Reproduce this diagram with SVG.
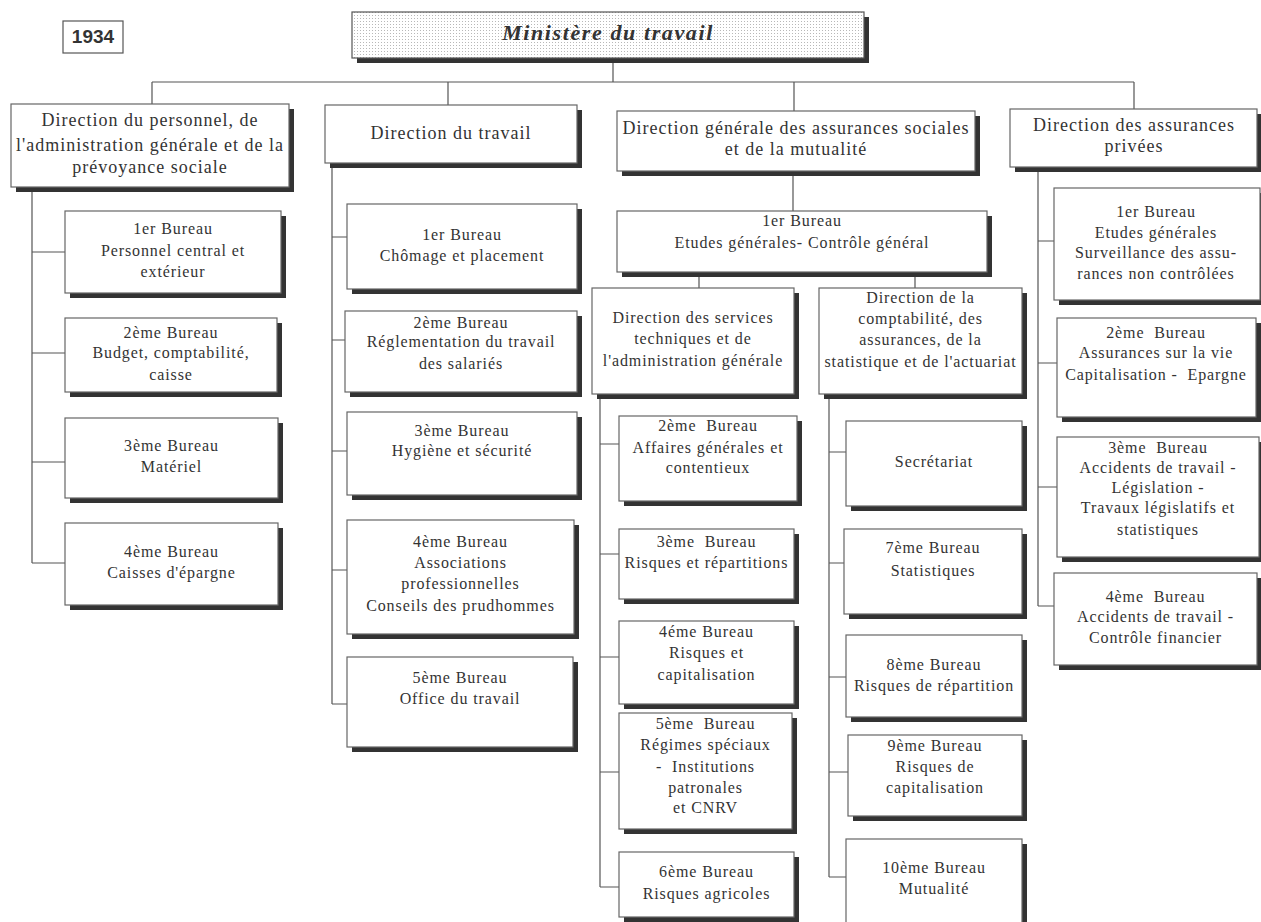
<svg xmlns="http://www.w3.org/2000/svg" width="1261" height="922" viewBox="0 0 1261 922">
<defs>
<pattern id="dots" width="3" height="3" patternUnits="userSpaceOnUse"><rect width="3" height="3" fill="#fff"/><rect width="1" height="1" fill="#b8b8b8"/></pattern>
<style>
.box{fill:#fff;stroke:#666;stroke-width:1.2}
.sh{fill:#333}
.t{font-family:"Liberation Serif","Times New Roman",serif;font-size:16px;letter-spacing:0.9px;fill:#333;text-anchor:middle}
.h{font-size:18px;letter-spacing:1px}
.ln{stroke:#555;stroke-width:1.2;fill:none}
</style>
</defs>
<rect width="1261" height="922" fill="#fff"/>
<g id="connectors" class="ln">
<path d="M613,58V82M152,82H1134M152,82V104M448,82V105M794,82V111M1134,82V109"/>
<path d="M32,187V563M32,252H65M32,353H65M32,462H65M32,563H65"/>
<path d="M332,163V704M332,237H347M332,340H345M332,451H347M332,570H347M332,704H347"/>
<path d="M793,171V211M699,272V288M915,272V288"/>
<path d="M600,394V887M600,444H619M600,554H619M600,657H619M600,772H619M600,887H619"/>
<path d="M829,394V877M829,452H846M829,563H844M829,677H846M829,772H848M829,877H846"/>
<path d="M1038,167V606M1038,241H1054M1038,363H1057M1038,487H1057M1038,606H1054"/>
</g>
<g id="year"><rect x="63" y="21" width="60" height="32" fill="#fff" stroke="#555" stroke-width="1.2"/><text x="93" y="43" style="font-family:'Liberation Sans',Arial,sans-serif;font-weight:bold;font-size:19px;fill:#333;text-anchor:middle">1934</text></g>
<g id="ministere"><rect class="sh" x="357" y="17" width="512" height="46"/><rect x="352" y="12" width="512" height="46" fill="url(#dots)" stroke="#555" stroke-width="1.2"/><text x="608" y="40" style="font-family:'Liberation Serif',serif;font-weight:bold;font-style:italic;font-size:22px;letter-spacing:1.6px;fill:#333;text-anchor:middle">Ministère du travail</text></g>

<g id="dir-personnel"><rect class="sh" x="16" y="109" width="278" height="83"/><rect class="box" x="11" y="104" width="278" height="83"/><text class="t h"><tspan x="150" y="126">Direction du personnel, de</tspan><tspan x="150" y="151">l'administration générale et de la</tspan><tspan x="150" y="173">prévoyance sociale</tspan></text></g>
<g id="dir-travail"><rect class="sh" x="330" y="110" width="252" height="58"/><rect class="box" x="325" y="105" width="252" height="58"/><text class="t h" x="451" y="139">Direction du travail</text></g>
<g id="dir-generale"><rect class="sh" x="622" y="116" width="358" height="60"/><rect class="box" x="617" y="111" width="358" height="60"/><text class="t h"><tspan x="796" y="134">Direction générale des assurances sociales</tspan><tspan x="796" y="155">et de la mutualité</tspan></text></g>
<g id="dir-privees"><rect class="sh" x="1015" y="114" width="247" height="58"/><rect class="box" x="1010" y="109" width="247" height="58"/><text class="t h"><tspan x="1134" y="131">Direction des assurances</tspan><tspan x="1134" y="152">privées</tspan></text></g>

<g id="p1"><rect class="sh" x="70" y="216" width="216" height="82"/><rect class="box" x="65" y="211" width="216" height="82"/><text class="t"><tspan x="173" y="234">1er Bureau</tspan><tspan x="173" y="256">Personnel central et</tspan><tspan x="173" y="277">extérieur</tspan></text></g>
<g id="p2"><rect class="sh" x="70" y="323" width="212" height="74"/><rect class="box" x="65" y="318" width="212" height="74"/><text class="t"><tspan x="171" y="338">2ème Bureau</tspan><tspan x="171" y="358">Budget, comptabilité,</tspan><tspan x="171" y="380">caisse</tspan></text></g>
<g id="p3"><rect class="sh" x="70" y="423" width="213" height="80"/><rect class="box" x="65" y="418" width="213" height="80"/><text class="t"><tspan x="171.5" y="451">3ème Bureau</tspan><tspan x="171.5" y="472">Matériel</tspan></text></g>
<g id="p4"><rect class="sh" x="70" y="528" width="213" height="82"/><rect class="box" x="65" y="523" width="213" height="82"/><text class="t"><tspan x="171.5" y="557">4ème Bureau</tspan><tspan x="171.5" y="578">Caisses d'épargne</tspan></text></g>

<g id="t1"><rect class="sh" x="352" y="209" width="230" height="85"/><rect class="box" x="347" y="204" width="230" height="85"/><text class="t"><tspan x="462" y="240">1er Bureau</tspan><tspan x="462" y="261">Chômage et placement</tspan></text></g>
<g id="t2"><rect class="sh" x="350" y="316" width="232" height="81"/><rect class="box" x="345" y="311" width="232" height="81"/><text class="t"><tspan x="461" y="328">2ème Bureau</tspan><tspan x="461" y="347">Réglementation du travail</tspan><tspan x="461" y="369">des salariés</tspan></text></g>
<g id="t3"><rect class="sh" x="352" y="417" width="230" height="83"/><rect class="box" x="347" y="412" width="230" height="83"/><text class="t"><tspan x="462" y="436">3ème Bureau</tspan><tspan x="462" y="456">Hygiène et sécurité</tspan></text></g>
<g id="t4"><rect class="sh" x="352" y="525" width="227" height="114"/><rect class="box" x="347" y="520" width="227" height="114"/><text class="t"><tspan x="460.5" y="547">4ème Bureau</tspan><tspan x="460.5" y="568">Associations</tspan><tspan x="460.5" y="589">professionnelles</tspan><tspan x="460.5" y="611">Conseils des prudhommes</tspan></text></g>
<g id="t5"><rect class="sh" x="352" y="662" width="226" height="90"/><rect class="box" x="347" y="657" width="226" height="90"/><text class="t"><tspan x="460" y="683">5ème Bureau</tspan><tspan x="460" y="704">Office du travail</tspan></text></g>

<g id="g1"><rect class="sh" x="622" y="216" width="370" height="61"/><rect class="box" x="617" y="211" width="370" height="61"/><text class="t"><tspan x="802" y="226">1er Bureau</tspan><tspan x="802" y="248">Etudes générales- Contrôle général</tspan></text></g>
<g id="g-services"><rect class="sh" x="597" y="293" width="202" height="106"/><rect class="box" x="592" y="288" width="202" height="106"/><text class="t"><tspan x="693" y="323">Direction des services</tspan><tspan x="693" y="344">techniques et de</tspan><tspan x="693" y="366">l'administration générale</tspan></text></g>
<g id="g-compta"><rect class="sh" x="824" y="293" width="203" height="106"/><rect class="box" x="819" y="288" width="203" height="106"/><text class="t"><tspan x="920.5" y="303">Direction de la</tspan><tspan x="920.5" y="324">comptabilité, des</tspan><tspan x="920.5" y="345">assurances, de la</tspan><tspan x="920.5" y="367">statistique et de l'actuariat</tspan></text></g>
<g id="s2"><rect class="sh" x="624" y="421" width="178" height="85"/><rect class="box" x="619" y="416" width="178" height="85"/><text class="t" xml:space="preserve"><tspan x="708" y="431">2ème  Bureau</tspan><tspan x="708" y="453">Affaires générales et</tspan><tspan x="708" y="473">contentieux</tspan></text></g>
<g id="s3"><rect class="sh" x="624" y="534" width="175" height="70"/><rect class="box" x="619" y="529" width="175" height="70"/><text class="t" xml:space="preserve"><tspan x="706.5" y="547">3ème  Bureau</tspan><tspan x="706.5" y="568">Risques et répartitions</tspan></text></g>
<g id="s4"><rect class="sh" x="624" y="626" width="175" height="83"/><rect class="box" x="619" y="621" width="175" height="83"/><text class="t"><tspan x="706.5" y="637">4éme Bureau</tspan><tspan x="706.5" y="658">Risques et</tspan><tspan x="706.5" y="680">capitalisation</tspan></text></g>
<g id="s5"><rect class="sh" x="624" y="718" width="173" height="116"/><rect class="box" x="619" y="713" width="173" height="116"/><text class="t" xml:space="preserve"><tspan x="705.5" y="729">5ème  Bureau</tspan><tspan x="705.5" y="750">Régimes spéciaux</tspan><tspan x="705.5" y="772">-  Institutions</tspan><tspan x="705.5" y="793">patronales</tspan><tspan x="705.5" y="813">et CNRV</tspan></text></g>
<g id="s6"><rect class="sh" x="624" y="857" width="175" height="65"/><rect class="box" x="619" y="852" width="175" height="65"/><text class="t"><tspan x="706.5" y="877">6ème Bureau</tspan><tspan x="706.5" y="899">Risques agricoles</tspan></text></g>
<g id="c-secr"><rect class="sh" x="851" y="426" width="176" height="85"/><rect class="box" x="846" y="421" width="176" height="85"/><text class="t" x="934" y="467">Secrétariat</text></g>
<g id="c7"><rect class="sh" x="849" y="534" width="178" height="85"/><rect class="box" x="844" y="529" width="178" height="85"/><text class="t"><tspan x="933" y="553">7ème Bureau</tspan><tspan x="933" y="576">Statistiques</tspan></text></g>
<g id="c8"><rect class="sh" x="851" y="640" width="176" height="82"/><rect class="box" x="846" y="635" width="176" height="82"/><text class="t"><tspan x="934" y="670">8ème Bureau</tspan><tspan x="934" y="691">Risques de répartition</tspan></text></g>
<g id="c9"><rect class="sh" x="853" y="740" width="174" height="81"/><rect class="box" x="848" y="735" width="174" height="81"/><text class="t"><tspan x="935" y="751">9ème Bureau</tspan><tspan x="935" y="772">Risques de</tspan><tspan x="935" y="793">capitalisation</tspan></text></g>
<g id="c10"><rect class="sh" x="851" y="844" width="176" height="100"/><rect class="box" x="846" y="839" width="176" height="100"/><text class="t"><tspan x="934" y="873">10ème Bureau</tspan><tspan x="934" y="894">Mutualité</tspan></text></g>

<g id="a1"><rect class="sh" x="1059" y="193" width="206" height="112"/><rect class="box" x="1054" y="188" width="206" height="112"/><text class="t"><tspan x="1156" y="217">1er Bureau</tspan><tspan x="1156" y="238">Etudes générales</tspan><tspan x="1156" y="258">Surveillance des assu-</tspan><tspan x="1156" y="279">rances non contrôlées</tspan></text></g>
<g id="a2"><rect class="sh" x="1062" y="323" width="199" height="99"/><rect class="box" x="1057" y="318" width="199" height="99"/><text class="t" xml:space="preserve"><tspan x="1156" y="338">2ème  Bureau</tspan><tspan x="1156" y="358">Assurances sur la vie</tspan><tspan x="1156" y="380">Capitalisation -  Epargne</tspan></text></g>
<g id="a3"><rect class="sh" x="1062" y="442" width="202" height="120"/><rect class="box" x="1057" y="437" width="202" height="120"/><text class="t" xml:space="preserve"><tspan x="1158" y="453">3ème  Bureau</tspan><tspan x="1158" y="473">Accidents de travail -</tspan><tspan x="1158" y="493">Législation -</tspan><tspan x="1158" y="513">Travaux législatifs et</tspan><tspan x="1158" y="535">statistiques</tspan></text></g>
<g id="a4"><rect class="sh" x="1059" y="578" width="203" height="92"/><rect class="box" x="1054" y="573" width="203" height="92"/><text class="t" xml:space="preserve"><tspan x="1155.5" y="602">4ème  Bureau</tspan><tspan x="1155.5" y="622">Accidents de travail -</tspan><tspan x="1155.5" y="643">Contrôle financier</tspan></text></g>
</svg>
